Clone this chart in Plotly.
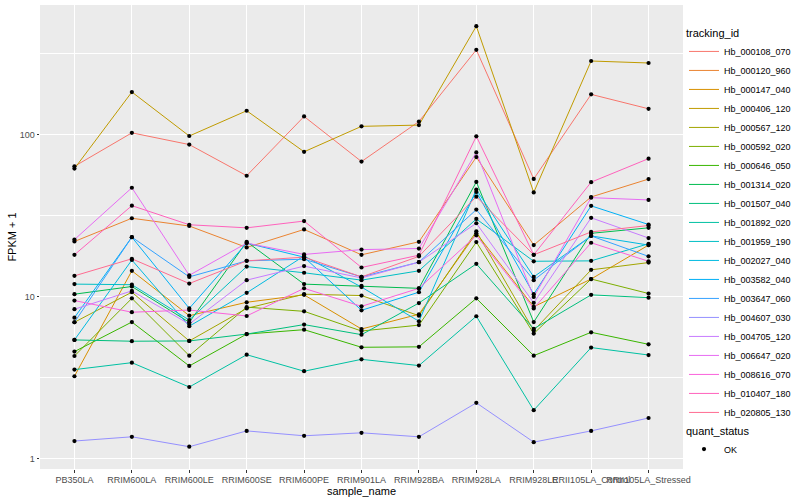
import plotly.graph_objects as go

samples = ["PB350LA", "RRIM600LA", "RRIM600LE", "RRIM600SE", "RRIM600PE", "RRIM901LA",
           "RRIM928BA", "RRIM928LA", "RRIM928LE", "RRII105LA_Control", "RRII105LA_Stressed"]

tracking_ids = ["Hb_000108_070", "Hb_000120_960", "Hb_000147_040", "Hb_000406_120", "Hb_000567_120",
                "Hb_000592_020", "Hb_000646_050", "Hb_001314_020", "Hb_001507_040", "Hb_001892_020",
                "Hb_001959_190", "Hb_002027_040", "Hb_003582_040", "Hb_003647_060", "Hb_004607_030",
                "Hb_004705_120", "Hb_006647_020", "Hb_008616_070", "Hb_010407_180", "Hb_020805_130"]

colors = ["#F8766D", "#EA8331", "#D89000", "#C09B00", "#A3A500", "#7CAE00", "#39B600", "#00BB4E",
          "#00BF7D", "#00C1A3", "#00BFC4", "#00BAE0", "#00B0F6", "#35A2FF", "#9590FF", "#C77CFF",
          "#E76BF3", "#FA62DB", "#FF62BC", "#FF6C91"]

fpkm = [
    [64, 103, 87.2, 56, 130, 68.5, 121, 335, 53.5, 178, 145],
    [22.0, 30.6, 27.4, 20.2, 26.1, 18.2, 21.9, 73, 20.9, 41.4, 53.4],
    [3.24, 14.5, 7.66, 9.27, 10.3, 6.34, 7.82, 24.7, 8.7, 12.9, 20.9],
    [62, 184, 98.5, 141, 78.7, 113, 115, 469, 44.2, 286, 278],
    [6.98, 10.7, 5.35, 8.5, 10.4, 10.2, 7.66, 25.4, 6.2, 14.7, 16.3],
    [4.32, 9.8, 4.34, 8.65, 8.15, 6.16, 6.7, 21.8, 5.94, 12.9, 10.5],
    [4.6, 7.0, 3.75, 5.9, 6.28, 4.89, 4.92, 9.8, 4.34, 6.05, 5.1],
    [10.4, 11.6, 6.97, 21.9, 12.0, 11.7, 11.3, 51.3, 7.0, 24.7, 26.7],
    [5.43, 5.33, 5.35, 5.9, 6.75, 5.85, 9.17, 16.0, 6.36, 10.3, 9.9],
    [3.56, 3.93, 2.78, 4.4, 3.48, 4.12, 3.77, 7.6, 2.0, 4.87, 4.38],
    [12.0, 11.9, 7.2, 15.4, 14.1, 12.7, 14.5, 30.3, 16.6, 16.7, 21.3],
    [5.43, 16.9, 6.6, 10.6, 17.9, 11.5, 7.08, 46.0, 13.3, 23.8, 20.9],
    [7.45, 23.4, 8.5, 21.5, 17.6, 8.27, 10.7, 44.5, 10.4, 36.5, 28.0],
    [6.98, 23.4, 13.3, 16.7, 17.1, 13.3, 16.4, 34.6, 12.7, 23.8, 17.8],
    [1.29, 1.37, 1.19, 1.49, 1.39, 1.45, 1.37, 2.22, 1.27, 1.49, 1.79],
    [8.4, 10.9, 6.8, 12.7, 15.5, 13.1, 16.4, 28.5, 9.2, 30.8, 23.1],
    [22.6, 47.2, 13.6, 21.5, 18.3, 19.6, 19.9, 78, 10.0, 41.0, 39.7],
    [9.5, 8.05, 8.3, 7.63, 11.3, 8.75, 11.3, 24.0, 8.5, 21.6, 16.6],
    [18.2, 36.6, 27.9, 26.7, 29.4, 15.2, 18.1, 98, 18.2, 51.1, 71.4],
    [13.5, 17.2, 12.1, 16.7, 17.6, 13.3, 17.8, 41.6, 18.2, 25.2, 27.6],
]

quant_status = ["OK"]

FONT = "Liberation Sans"
fig = go.Figure()

for tid, col, vals in zip(tracking_ids, colors, fpkm):
    fig.add_trace(go.Scatter(
        x=samples, y=vals, mode="lines", name=tid,
        line=dict(color=col, width=1), legend="legend", hoverinfo="skip"))

all_x = [s for vals in fpkm for s in samples]
all_y = [v for vals in fpkm for v in vals]
fig.add_trace(go.Scatter(
    x=all_x, y=all_y, mode="markers", name=quant_status[0],
    marker=dict(color="black", size=4.2, symbol="circle"), legend="legend2"))

fig.update_layout(
    width=800, height=500,
    margin=dict(l=40, r=116, t=5, b=31),
    paper_bgcolor="white", plot_bgcolor="#EBEBEB",
    font=dict(family=FONT, size=9, color="black"),
    showlegend=True,
    legend=dict(title=dict(text="tracking_id", font=dict(size=11)),
                x=1.0, xanchor="left", y=0.962, yanchor="top",
                font=dict(size=9), itemwidth=30, tracegroupgap=0,
                bgcolor="rgba(0,0,0,0)"),
    legend2=dict(title=dict(text="quant_status", font=dict(size=11)),
                 x=1.0, xanchor="left", y=0.105, yanchor="top",
                 font=dict(size=9), itemwidth=30, bgcolor="rgba(0,0,0,0)"),
    xaxis=dict(
        type="category", categoryorder="array", categoryarray=samples,
        range=[-0.6, 10.6], showgrid=True, gridcolor="white", gridwidth=1.1,
        zeroline=False, showline=False, ticks="outside", ticklen=2.5,
        tickcolor="#333333", tickangle=0, automargin=False,
        tickfont=dict(size=9, color="#4D4D4D", family=FONT),
        title=dict(text="sample_name", font=dict(size=11), standoff=0)),
    yaxis=dict(
        type="log", range=[-0.062, 2.802], automargin=False,
        tickvals=[1, 10, 100], ticktext=["1", "10", "100"],
        showgrid=True, gridcolor="white", gridwidth=1.1,
        minor=dict(tickvals=[10 ** 0.5, 10 ** 1.5, 10 ** 2.5], showgrid=True,
                   gridcolor="white", gridwidth=0.5, ticks=""),
        zeroline=False, showline=False, ticks="outside", ticklen=2.5,
        tickcolor="#333333",
        tickfont=dict(size=9, color="#4D4D4D", family=FONT),
        title=dict(text="FPKM + 1", font=dict(size=11), standoff=0)),
)

fig.write_html("out.html", config={"displayModeBar": False},
               post_script="document.body.style.margin='0';")
